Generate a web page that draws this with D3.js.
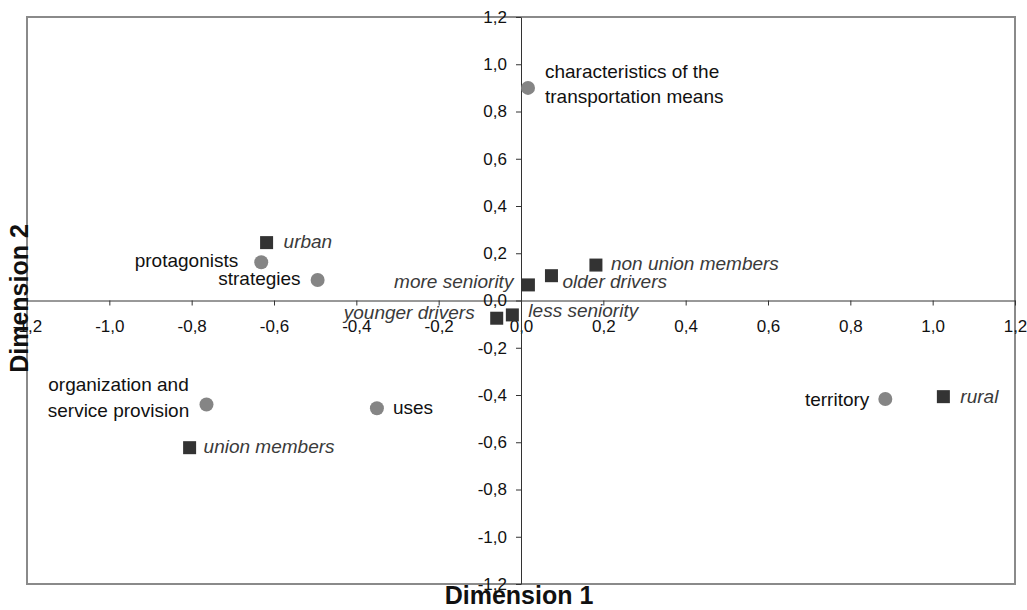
<!DOCTYPE html>
<html>
<head>
<meta charset="utf-8">
<script src="https://cdn.jsdelivr.net/npm/d3@7"></script>
<style>
  body { margin: 0; background: #fff; }
  svg { display: block; font-family: "Liberation Sans", Arial, sans-serif; }
  .axis text { font-size: 17px; fill: #111; }
  .axis path, .axis line { stroke: #333; stroke-width: 1; }
  .lbl { font-size: 19px; fill: #111; }
  .lbl-it { font-size: 19px; font-style: italic; fill: #3a3a3a; }
  .title { font-size: 25px; font-weight: bold; fill: #111; }
</style>
</head>
<body>
<div id="chart"></div>
<script>
// variables (circles)
var circleNames = ["characteristics of the\ntransportation means", "protagonists", "strategies",
                   "organization and\nservice provision", "uses", "territory"];
var circleX = [0.017, -0.631, -0.494, -0.764, -0.350, 0.885];
var circleY = [0.900, 0.162, 0.087, -0.440, -0.456, -0.417];

// supplementary categories (squares)
var squareNames = ["urban", "union members", "rural", "non union members", "older drivers",
                   "more seniority", "younger drivers", "less seniority"];
var squareX = [-0.618, -0.805, 1.026, 0.182, 0.074, 0.018, -0.059, -0.021];
var squareY = [0.245, -0.623, -0.407, 0.150, 0.105, 0.066, -0.075, -0.061];

var tickValues = [-1.2, -1.0, -0.8, -0.6, -0.4, -0.2, 0.0, 0.2, 0.4, 0.6, 0.8, 1.0, 1.2];
var xTitle = "Dimension 1", yTitle = "Dimension 2";

// label placement relative to the marker: anchor, dx, baseline dy of each line
var placement = {
    "characteristics of the\ntransportation means": ["start", 17, [-10, 15]],
    "protagonists": ["end", -23, [5]],
    "strategies": ["end", -17, [5]],
    "organization and\nservice provision": ["middle", -88, [-13, 13]],
    "uses": ["start", 16, [6]],
    "territory": ["end", -16, [6.5]],
    "urban": ["start", 17, [5]],
    "union members": ["start", 14, [5.5]],
    "rural": ["start", 17, [6]],
    "non union members": ["start", 15, [5]],
    "older drivers": ["start", 11, [12]],
    "more seniority": ["end", -15, [3]],
    "younger drivers": ["end", -22, [1]],
    "less seniority": ["start", 16, [2]]
};

var W = 1027, H = 610;
var svg = d3.select("#chart").append("svg").attr("width", W).attr("height", H);

var x = d3.scaleLinear().domain([-1.2, 1.2]).range([27, 1015]);
var y = d3.scaleLinear().domain([-1.2, 1.2]).range([584, 17]);

var fmt = function(v) { return d3.format(".1f")(v).replace("−", "-").replace(".", ","); };

// plot border
svg.append("rect")
    .attr("x", x(-1.2)).attr("y", y(1.2))
    .attr("width", x(1.2) - x(-1.2)).attr("height", y(-1.2) - y(1.2))
    .attr("fill", "none").attr("stroke", "#8a8a8a").attr("stroke-width", 2);

var xAxis = d3.axisBottom(x).tickValues(tickValues).tickFormat(fmt)
    .tickSizeInner(5).tickSizeOuter(0).tickPadding(14);
var yAxis = d3.axisLeft(y).tickValues(tickValues).tickFormat(fmt)
    .tickSizeInner(5).tickSizeOuter(0).tickPadding(9);

svg.append("g").attr("class", "axis axis--x")
    .attr("transform", "translate(0," + y(0) + ")").call(xAxis);
svg.append("g").attr("class", "axis axis--y")
    .attr("transform", "translate(" + x(0) + ",0)").call(yAxis);

svg.selectAll(".axis").attr("font-family", null).attr("font-size", null);

// axis titles
svg.append("text").attr("class", "title")
    .attr("x", (x(-1.2) + x(1.2)) / 2 - 2).attr("y", 604)
    .attr("text-anchor", "middle").text(xTitle);
svg.append("text").attr("class", "title")
    .attr("transform", "translate(28," + ((y(1.2) + y(-1.2)) / 2 - 2) + ") rotate(-90)")
    .attr("text-anchor", "middle").text(yTitle);

var circles = circleNames.map(function(n, i) { return {name: n, x: circleX[i], y: circleY[i]}; });
var squares = squareNames.map(function(n, i) { return {name: n, x: squareX[i], y: squareY[i]}; });

var pts = svg.append("g").attr("class", "points");

pts.selectAll(".sq").data(squares).enter().append("rect")
    .attr("class", "sq")
    .attr("x", d => x(d.x) - 6.5).attr("y", d => y(d.y) - 6.5)
    .attr("width", 13).attr("height", 13)
    .attr("fill", "#333");

pts.selectAll(".dot").data(circles).enter().append("circle")
    .attr("class", "dot")
    .attr("cx", d => x(d.x)).attr("cy", d => y(d.y))
    .attr("r", 7)
    .attr("fill", "#858585");

function drawLabels(data, cls) {
    data.forEach(function(d) {
        var p = placement[d.name];
        var lines = d.name.split("\n");
        var t = svg.append("text").attr("class", cls).attr("text-anchor", p[0]);
        lines.forEach(function(line, k) {
            t.append("tspan")
                .attr("x", x(d.x) + p[1])
                .attr("y", y(d.y) + p[2][k])
                .text(line);
        });
    });
}
drawLabels(circles, "lbl");
drawLabels(squares, "lbl-it");
</script>
</body>
</html>
